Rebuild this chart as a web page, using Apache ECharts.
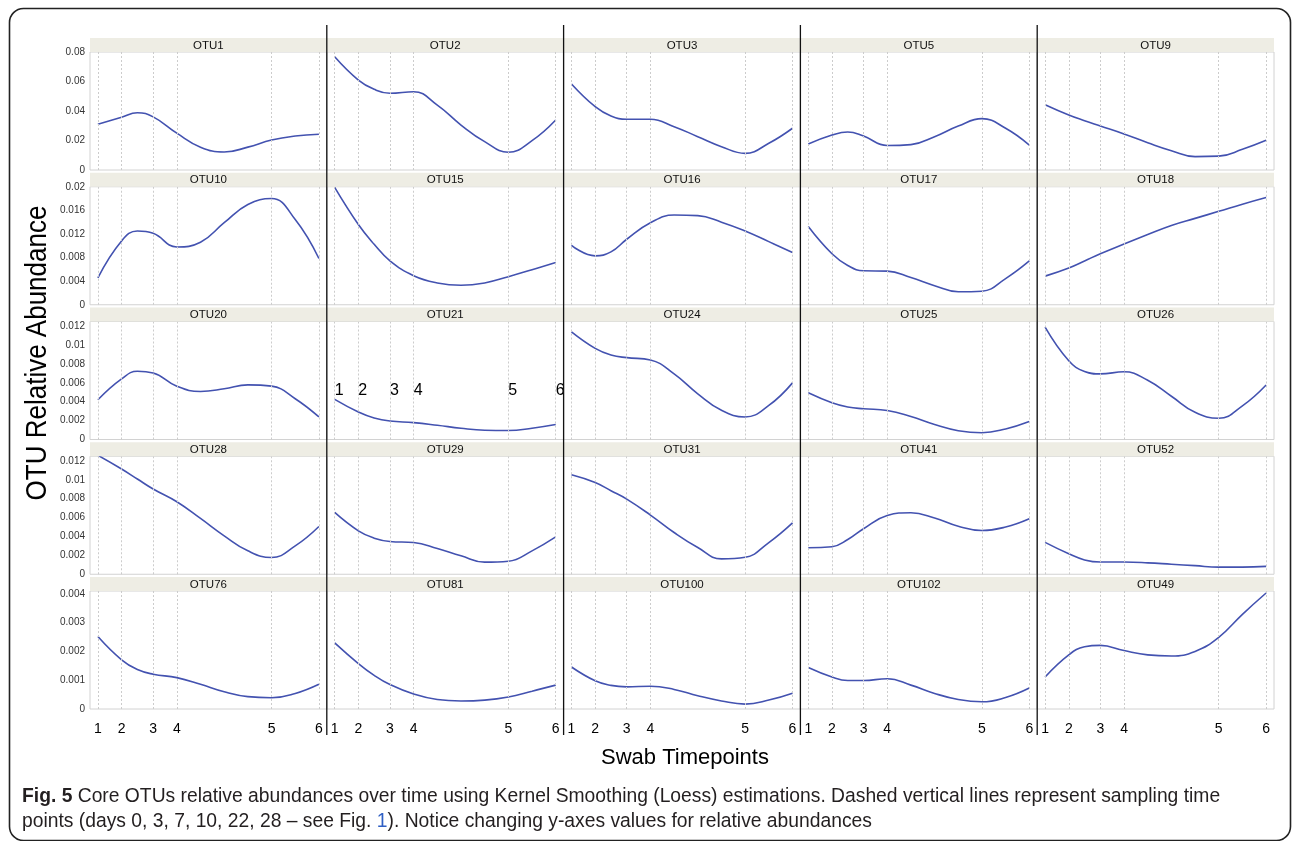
<!DOCTYPE html>
<html>
<head>
<meta charset="utf-8">
<title>Core OTUs relative abundances</title>
<script src="https://cdn.jsdelivr.net/npm/echarts@6/dist/echarts.min.js"></script>
<style>
  html, body { margin: 0; padding: 0; background: #fff; }
  #main { width: 1293px; height: 841px; }
</style>
</head>
<body>
<div id="main"></div>
<script>
var days = [0, 3, 5, 7, 10, 13, 16, 19, 22, 25, 28];
// sampling time points (days 0, 3, 7, 10, 22, 28) and their labels
var timepointDays = [0, 3, 7, 10, 22, 28];
var timepointLabels = ['1', '2', '3', '4', '5', '6'];

var panelNames = [
    'OTU1', 'OTU2', 'OTU3', 'OTU5', 'OTU9',
    'OTU10', 'OTU15', 'OTU16', 'OTU17', 'OTU18',
    'OTU20', 'OTU21', 'OTU24', 'OTU25', 'OTU26',
    'OTU28', 'OTU29', 'OTU31', 'OTU41', 'OTU52',
    'OTU76', 'OTU81', 'OTU100', 'OTU102', 'OTU49'
];
var rowMax = [0.08, 0.02, 0.0125, 0.0125, 0.0041];
var rowStep = [0.02, 0.004, 0.002, 0.002, 0.001];

var otu1 = [0.031, 0.0358, 0.0388, 0.036, 0.025, 0.0155, 0.0122, 0.0155, 0.0203, 0.023, 0.0242];
var otu2 = [0.0768, 0.061, 0.0547, 0.052, 0.0531, 0.044, 0.0305, 0.0192, 0.012, 0.0199, 0.0339];
var otu3 = [0.0583, 0.0429, 0.0366, 0.0344, 0.0344, 0.0294, 0.0226, 0.0158, 0.0113, 0.0181, 0.0283];
var otu5 = [0.0176, 0.0237, 0.0258, 0.023, 0.0166, 0.0172, 0.0226, 0.0298, 0.0348, 0.0283, 0.0169];
var otu9 = [0.0443, 0.0373, 0.0334, 0.0298, 0.0244, 0.0185, 0.0131, 0.0091, 0.0094, 0.014, 0.0201];
var otu10 = [0.00454, 0.0108, 0.0125, 0.0121, 0.0098, 0.0106, 0.0139, 0.017, 0.018, 0.01445, 0.00784];
var otu15 = [0.0199, 0.0136, 0.01025, 0.00745, 0.00493, 0.0037, 0.0033, 0.0037, 0.00476, 0.00594, 0.00717];
var otu16 = [0.01008, 0.00829, 0.00896, 0.0111, 0.0139, 0.0152, 0.0151, 0.014, 0.0125, 0.0107, 0.00885];
var otu17 = [0.01326, 0.00864, 0.00666, 0.00575, 0.0057, 0.0046, 0.00323, 0.0022, 0.0023, 0.00444, 0.00743];
var otu18 = [0.00485, 0.00624, 0.00743, 0.00864, 0.0103, 0.0119, 0.01344, 0.01464, 0.01583, 0.01704, 0.01817];
var otu20 = [0.00421, 0.00642, 0.00723, 0.00705, 0.00565, 0.00509, 0.00537, 0.00579, 0.00565, 0.00432, 0.00239];
var otu21 = [0.00425, 0.00291, 0.00228, 0.00196, 0.00179, 0.00151, 0.00119, 0.00098, 0.00095, 0.00119, 0.00158];
var otu24 = [0.0114, 0.00965, 0.00895, 0.00867, 0.00842, 0.00695, 0.00484, 0.00309, 0.00239, 0.00361, 0.006];
var otu25 = [0.00496, 0.0039, 0.00345, 0.00326, 0.00307, 0.00243, 0.00158, 0.00093, 0.00071, 0.00112, 0.00191];
var otu26 = [0.0119, 0.00834, 0.00721, 0.00695, 0.00717, 0.00627, 0.00458, 0.00288, 0.00225, 0.00357, 0.00578];
var otu28 = [0.0126, 0.01115, 0.01009, 0.00903, 0.00768, 0.00591, 0.00407, 0.00248, 0.00177, 0.003, 0.00506];
var otu29 = [0.00655, 0.0046, 0.00382, 0.00347, 0.00336, 0.00273, 0.00195, 0.00128, 0.00138, 0.00248, 0.00396];
var otu31 = [0.01055, 0.00973, 0.00885, 0.00796, 0.00627, 0.00442, 0.00283, 0.00163, 0.0018, 0.00336, 0.00545];
var otu41 = [0.0028, 0.00292, 0.00368, 0.00482, 0.00622, 0.00652, 0.00596, 0.00508, 0.00463, 0.005, 0.00588];
var otu52 = [0.00338, 0.00217, 0.00152, 0.00129, 0.00129, 0.00121, 0.00106, 0.00091, 0.00075, 0.00075, 0.00083];
var otu76 = [0.00252, 0.00171, 0.00137, 0.00121, 0.00109, 0.00086, 0.0006, 0.00043, 0.00039, 0.00054, 0.00086];
var otu81 = [0.0023, 0.00158, 0.00117, 0.00085, 0.00052, 0.00033, 0.00028, 0.00031, 0.00042, 0.00062, 0.00083];
var otu100 = [0.00146, 0.00098, 0.00082, 0.00077, 0.00079, 0.00068, 0.00046, 0.00028, 0.00017, 0.00031, 0.00055];
var otu102 = [0.00144, 0.00111, 0.00099, 0.00099, 0.00105, 0.00083, 0.00054, 0.00033, 0.00025, 0.0004, 0.00073];
var otu49 = [0.00111, 0.00188, 0.00216, 0.00221, 0.00203, 0.00188, 0.00184, 0.002, 0.00249, 0.00329, 0.00403];

var panelValues = [
    otu1, otu2, otu3, otu5, otu9,
    otu10, otu15, otu16, otu17, otu18,
    otu20, otu21, otu24, otu25, otu26,
    otu28, otu29, otu31, otu41, otu52,
    otu76, otu81, otu100, otu102, otu49
];

(function () {
    var chart = echarts.init(document.getElementById('main'));

    // lattice layout
    var left0 = 90, colW = 236.8;
    var top0 = 38, rowH = 134.75, stripH = 14, plotH = 118;
    var font = 'Liberation Sans, Arial, sans-serif';
    var lineColor = '#4352b0';

    var grids = [], xAxes = [], yAxes = [], series = [], graphics = [];

    for (var i = 0; i < panelNames.length; i++) {
        var r = Math.floor(i / 5), c = i % 5;
        var gx = left0 + c * colW;
        var gy = top0 + r * rowH;
        grids.push({
            left: gx, top: gy + stripH, width: colW, height: plotH,
            show: true, borderColor: '#d2d2d2', borderWidth: 1,
            outerBoundsMode: 'none'
        });
        xAxes.push({
            type: 'value', gridIndex: i, min: -1, max: 29,
            axisLine: {show: false}, axisTick: {show: false}, splitLine: {show: false},
            axisLabel: {
                show: r === 4,
                customValues: timepointDays,
                formatter: function (v) { return timepointLabels[timepointDays.indexOf(v)]; },
                fontFamily: font, fontSize: 14, color: '#000', margin: 13
            }
        });
        (function (step) {
            yAxes.push({
                type: 'value', gridIndex: i, min: 0, max: rowMax[r], interval: step,
                axisLine: {show: false}, axisTick: {show: false}, splitLine: {show: false},
                axisLabel: {
                    show: c === 0,
                    fontFamily: font, fontSize: 10, color: '#333', margin: 5,
                    formatter: function (v) {
                        var k = v / step;
                        return Math.abs(k - Math.round(k)) < 1e-6 ? String(+v.toFixed(4)) : '';
                    }
                }
            });
        })(rowStep[r]);
        series.push({
            type: 'line', name: panelNames[i], xAxisIndex: i, yAxisIndex: i,
            data: days.map(function (d, k) { return [d, panelValues[i][k]]; }),
            smooth: 0.45, showSymbol: false, silent: true,
            lineStyle: {color: lineColor, width: 1.6},
            markLine: {
                silent: true, symbol: 'none', label: {show: false},
                lineStyle: {color: '#cccccc', type: [2, 2], width: 1},
                data: timepointDays.map(function (d) { return {xAxis: d}; })
            },
            z: 3
        });
        // strip with panel name
        graphics.push({
            type: 'rect', z: 10,
            shape: {x: gx, y: gy, width: colW, height: stripH},
            style: {fill: '#eeede4'}
        });
        graphics.push({
            type: 'text', z: 11,
            style: {
                x: gx + colW / 2, y: gy + stripH / 2 + 0.5, text: panelNames[i],
                textAlign: 'center', textVerticalAlign: 'middle',
                fontFamily: font, fontSize: 11.5, fill: '#111'
            }
        });
    }

    // stray timepoint labels printed inside the OTU21 panel
    xAxes.push({
        type: 'value', gridIndex: 11, position: 'top', offset: -77, min: -1, max: 29,
        axisLine: {show: false}, axisTick: {show: false}, splitLine: {show: false},
        axisLabel: {
            customValues: timepointDays,
            formatter: function (v) { return timepointLabels[timepointDays.indexOf(v)]; },
            fontFamily: font, fontSize: 16, color: '#000', margin: 0, align: 'left'
        }
    });

    // black separators between columns
    for (var s = 1; s < 5; s++) {
        graphics.push({
            type: 'line', z: 12,
            shape: {x1: left0 + s * colW, y1: 25, x2: left0 + s * colW, y2: 735},
            style: {stroke: '#111', lineWidth: 1.3}
        });
    }

    // axis titles
    graphics.push({
        type: 'text', z: 12, x: 38, y: 353, rotation: Math.PI / 2, scaleY: 1.1,
        style: {
            x: 0, y: 0, text: 'OTU Relative Abundance',
            textAlign: 'center', textVerticalAlign: 'middle',
            fontFamily: font, fontSize: 26, fill: '#000'
        }
    });
    graphics.push({
        type: 'text', z: 12,
        style: {
            x: 685, y: 758, text: 'Swab Timepoints',
            textAlign: 'center', textVerticalAlign: 'middle',
            fontFamily: font, fontSize: 22, fill: '#000'
        }
    });

    // caption
    var capFont = 'Liberation Sans, sans-serif';
    graphics.push({
        type: 'text', z: 12,
        style: {
            x: 22, y: 797, textVerticalAlign: 'middle',
            text: '{b|Fig. 5} Core OTUs relative abundances over time using Kernel Smoothing (Loess) estimations. Dashed vertical lines represent sampling time',
            fontFamily: capFont, fontSize: 19.3, fill: '#231f20',
            rich: {b: {fontWeight: 'bold', fontFamily: capFont, fontSize: 19.3, fill: '#231f20'}}
        }
    });
    graphics.push({
        type: 'text', z: 12,
        style: {
            x: 22, y: 822, textVerticalAlign: 'middle',
            text: 'points (days 0, 3, 7, 10, 22, 28 \u2013 see Fig. {l|1}). Notice changing y-axes values for relative abundances',
            fontFamily: capFont, fontSize: 19.3, fill: '#231f20',
            rich: {l: {fontFamily: capFont, fontSize: 19.3, fill: '#2f5fc4'}}
        }
    });

    // rounded frame around the figure
    graphics.push({
        type: 'rect', z: 1,
        shape: {x: 9.5, y: 8.5, width: 1281, height: 832, r: 14},
        style: {fill: 'none', stroke: '#222', lineWidth: 1.6}
    });

    chart.setOption({
        animation: false,
        grid: grids,
        xAxis: xAxes,
        yAxis: yAxes,
        series: series,
        graphic: {elements: graphics}
    });
})();
</script>
</body>
</html>
